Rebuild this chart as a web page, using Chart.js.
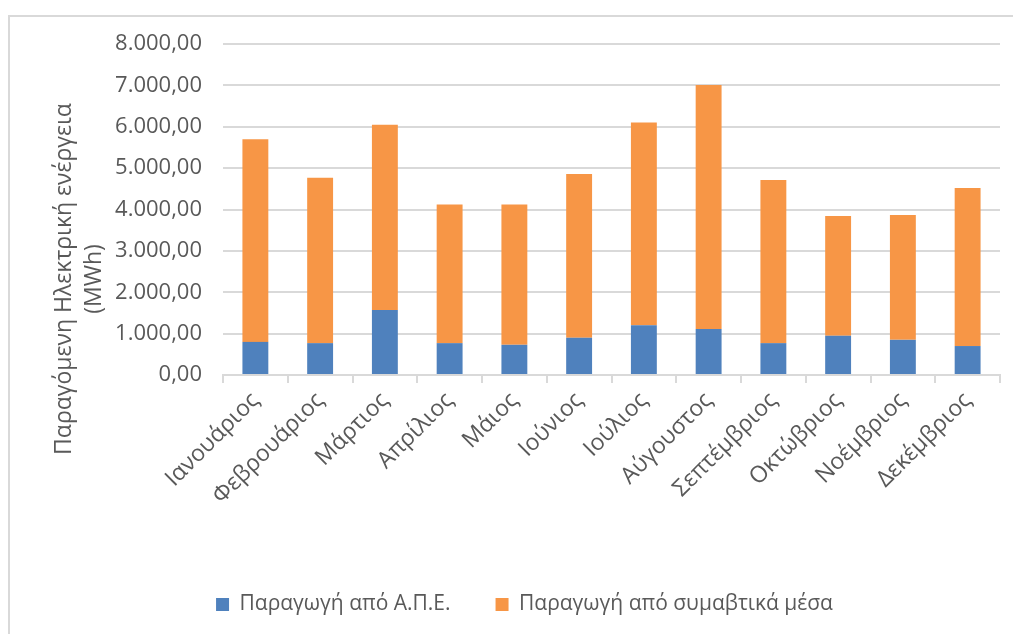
<!DOCTYPE html>
<html>
<head>
<meta charset="utf-8">
<script src="https://cdn.jsdelivr.net/npm/chart.js@4"></script>
<style>
  html, body { margin: 0; padding: 0; background: #fff; overflow: hidden; }
  #box {
    position: absolute; left: 8px; top: 15px;
    border-left: 2px solid #d9d9d9; border-top: 2px solid #d9d9d9;
  }
</style>
</head>
<body>
<div id="box"><canvas id="energy" width="1003" height="617"></canvas></div>
<script>
var months = ['Ιανουάριος', 'Φεβρουάριος', 'Μάρτιος', 'Απρίλιος', 'Μάιος', 'Ιούνιος',
  'Ιούλιος', 'Αύγουστος', 'Σεπτέμβριος', 'Οκτώβριος', 'Νοέμβριος', 'Δεκέμβριος'];
// MWh per month
var renewable = [800, 770, 1570, 770, 730, 900, 1200, 1110, 770, 950, 850, 700];
var conventional = [4900, 4000, 4480, 3350, 3390, 3960, 4900, 5900, 3940, 2890, 3020, 3820];
var seriesNames = ['Παραγωγή από Α.Π.Ε.', 'Παραγωγή από συμαβτικά μέσα'];
var yTickLabels = ['0,00', '1.000,00', '2.000,00', '3.000,00', '4.000,00',
  '5.000,00', '6.000,00', '7.000,00', '8.000,00'];
var yTitleLines = ['Παραγόμενη Ηλεκτρική ενέργεια', '(MWh)'];

var FONT = "'Open Sans', sans-serif";
var GREY = '#595959';
var LINE = '#d9d9d9';

// axis title sits lower than the plot centre, so draw it by hand
var yTitle = {
  id: 'yTitle',
  afterDraw: function (chart) {
    var c = chart.ctx;
    c.save();
    c.fillStyle = GREY;
    c.font = '23px ' + FONT;
    c.textAlign = 'center';
    c.textBaseline = 'alphabetic';
    c.translate(61, 262);
    c.rotate(-Math.PI / 2);
    c.fillText(yTitleLines[0], 0, 0);
    c.fillText(yTitleLines[1], 0, 30);
    c.restore();
  }
};

var ctx = document.getElementById('energy').getContext('2d');
var chart = new Chart(ctx, {
  type: 'bar',
  data: {
    labels: months,
    datasets: [{
      label: seriesNames[0],
      backgroundColor: '#4f81bd',
      data: renewable
    }, {
      label: seriesNames[1],
      backgroundColor: '#f79646',
      data: conventional
    }]
  },
  options: {
    responsive: false,
    animation: false,
    layout: { padding: { left: 39, right: 13, top: 27, bottom: 9 } },
    datasets: { bar: { categoryPercentage: 1, barPercentage: 0.4, borderWidth: 0 } },
    plugins: {
      tooltip: { enabled: false },
      legend: {
        position: 'bottom',
        labels: {
          boxWidth: 13, boxHeight: 13, padding: 45,
          color: GREY, font: { family: FONT, size: 21 }
        }
      }
    },
    scales: {
      x: {
        stacked: true,
        afterFit: function (s) { s.height = 174; },
        grid: { drawOnChartArea: false, tickLength: 8, color: LINE, lineWidth: 2 },
        border: { color: LINE, width: 2 },
        ticks: {
          autoSkip: false, maxRotation: 45, minRotation: 45, padding: 4,
          color: GREY, font: { family: FONT, size: 23 }
        }
      },
      y: {
        stacked: true,
        min: 0, max: 8000,
        afterFit: function (s) { s.width = 174; },
        // invisible tick marks keep the labels away from the plot
        grid: { tickLength: 18, tickColor: 'transparent', color: LINE, lineWidth: 2 },
        border: { display: false },
        ticks: {
          stepSize: 1000, padding: 3,
          color: GREY, font: { family: FONT, size: 22 },
          callback: function (v) { return yTickLabels[v / 1000]; }
        }
      }
    }
  },
  plugins: [yTitle]
});
</script>
</body>
</html>
